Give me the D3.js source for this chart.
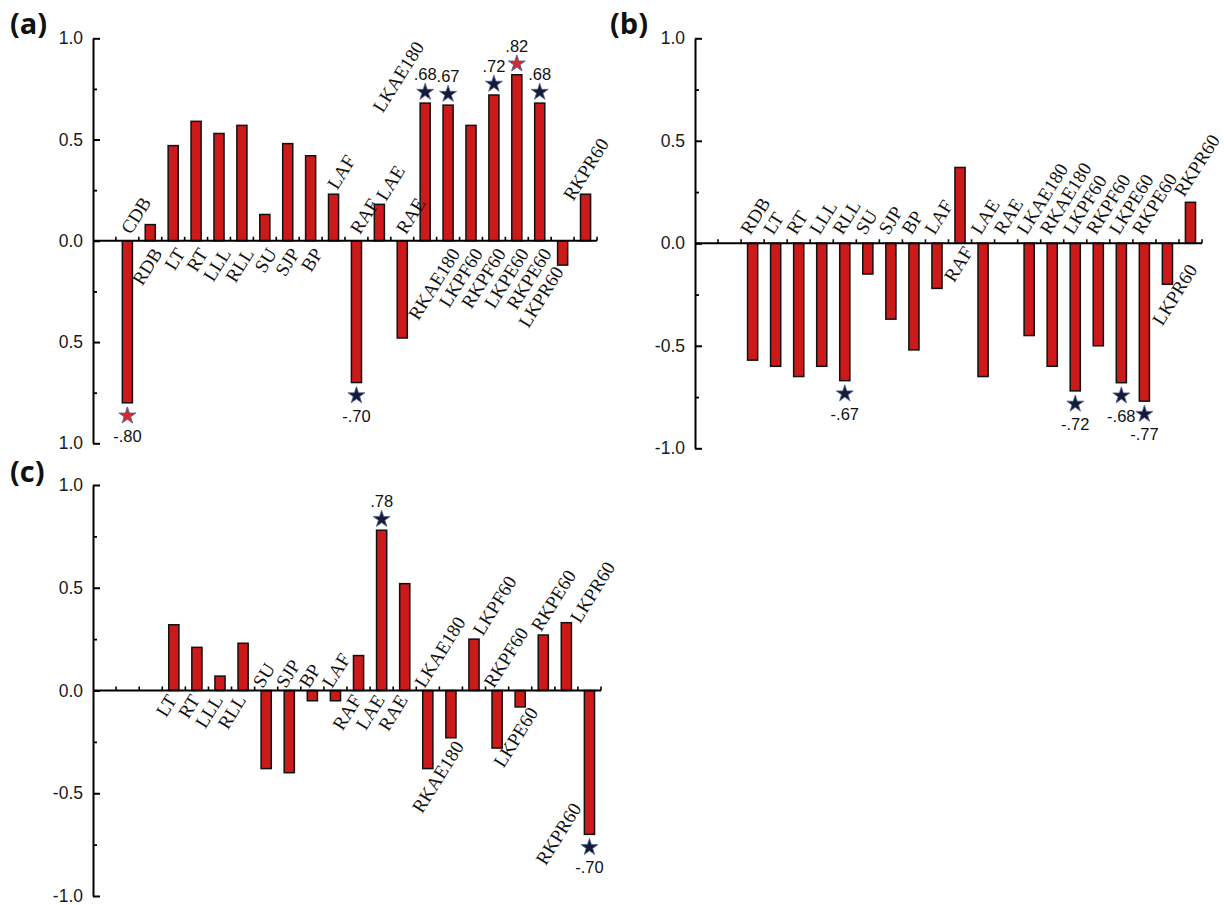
<!DOCTYPE html>
<html><head><meta charset="utf-8">
<script src="https://cdn.jsdelivr.net/npm/d3@7"></script>
<style>body{margin:0;background:#fff}</style>
</head><body><svg id="c" width="1224" height="905"></svg>
<script>
// ---------- data ----------
const categories = ["CDB","RDB","LT","RT","LLL","RLL","SU","SJP","BP","LAF","RAF","LAE","RAE",
  "LKAE180","RKAE180","LKPF60","RKPF60","LKPE60","RKPE60","LKPR60","RKPR60"];

const valuesA = [-0.80, 0.08, 0.47, 0.59, 0.53, 0.57, 0.13, 0.48, 0.42, 0.23, -0.70, 0.18, -0.48,
  0.68, 0.67, 0.57, 0.72, 0.82, 0.68, -0.12, 0.23];
const valuesB = [null, -0.57, -0.60, -0.65, -0.60, -0.67, -0.15, -0.37, -0.52, -0.22, 0.37, -0.65, null,
  -0.45, -0.60, -0.72, -0.50, -0.68, -0.77, -0.20, 0.20];
const valuesC = [null, null, 0.32, 0.21, 0.07, 0.23, -0.38, -0.40, -0.05, -0.05, 0.17, 0.78, 0.52,
  -0.38, -0.23, 0.25, -0.28, -0.08, 0.27, 0.33, -0.70];

// 0 = no mark, 1 = significant (dark star), 2 = strongest (red star)
const starsA = [2,0,0,0,0,0,0,0,0,0,1,0,0,1,1,0,1,2,1,0,0];
const starsB = [0,0,0,0,0,1,0,0,0,0,0,0,0,0,0,1,0,1,1,0,0];
const starsC = [0,0,0,0,0,0,0,0,0,0,0,1,0,0,0,0,0,0,0,0,1];

const tickValues = [1, 0.5, 0, -0.5, -1];
const tickLabelsA = ["1.0","0.5","0.0","0.5","1.0"];
const tickLabelsBC = ["1.0","0.5","0.0","-0.5","-1.0"];
const minorTicks = [0.75, 0.25, -0.25, -0.75];
const panelLetters = ["(a)","(b)","(c)"];

// ---------- label layout (a = above axis, b = below axis, arrays = [anchor, base, dx, dy]) ----------
const layoutA = ["a","b","b","b","b","b","b","b","b",["s","v",-2,-7],"a",["s","v",1,-6],"a",
  ["s",0.645,-48,0],"b","b","b","b","b",["e","v",-4,3],["s","v",-18,4]];
const layoutB = [null,"a","a","a","a","a","a","a","a","a","b","a","a",
  "a","a","a","a","a","a",["e",-0.11,25,0],["s","v",-12,-8]];
const layoutC = [null,null,"b","b","b","b","a","a","a","a","b","b","b",
  "a",["e","v",8,5],["s","v",3,-6],"a",["e","v",13,2],["s","v",-8,-6],["s","v",8,-2],["e",-0.555,-13,0]];

// ---------- drawing ----------
const svg = d3.select("#c");
svg.append("rect").attr("width",1224).attr("height",905).attr("fill","#fff");

const panels = [
  {letter: panelLetters[0], values: valuesA, stars: starsA, layout: layoutA, ticks: tickLabelsA,
   x0: 93, x1: 597, yT: 38.3, yB: 443.3, lx: 10, ly: 34, off: {a: [-2,-9], b: [7,9]}},
  {letter: panelLetters[1], values: valuesB, stars: starsB, layout: layoutB, ticks: tickLabelsBC,
   x0: 695, x1: 1202, yT: 38.3, yB: 448.3, lx: 610, ly: 34, off: {a: [-8,-11], b: [8,5]}},
  {letter: panelLetters[2], values: valuesC, stars: starsC, layout: layoutC, ticks: tickLabelsBC,
   x0: 93, x1: 601, yT: 485, yB: 896, lx: 10, ly: 482, off: {a: [-9,-5], b: [-2,6]}}
];

const fmt = v => v.toFixed(2).replace(/^(-?)0\./, "$1.");
const ANG = -58;

function draw(P){
  const g = svg.append("g");
  const x = d3.scaleBand().domain(["", ...categories]).range([P.x0, P.x1]).padding(0);
  const y = d3.scaleLinear().domain([-1, 1]).range([P.yB, P.yT]);
  const bw = x.bandwidth();
  const barW = bw * 0.44;
  const data = categories.map((c, i) => ({c, v: P.values[i], s: P.stars[i], l: P.layout[i]}));

  // bars
  g.selectAll("rect.bar").data(data.filter(d => d.v != null)).join("rect")
    .attr("class","bar")
    .attr("x", d => x(d.c) + bw/2 - barW/2).attr("width", barW)
    .attr("y", d => y(Math.max(0, d.v)))
    .attr("height", d => Math.abs(y(d.v) - y(0)))
    .attr("fill", "#cc1a1a").attr("stroke", "#111").attr("stroke-width", 1.5);

  // y axis
  const ya = d3.axisLeft(y).tickValues(tickValues).tickFormat((d, i) => P.ticks[i])
    .tickSizeInner(-7).tickSizeOuter(0).tickPadding(10);
  const yg = g.append("g").attr("transform", `translate(${P.x0},0)`).call(ya);
  yg.select(".domain").attr("stroke", "#000").attr("stroke-width", 2);
  yg.selectAll(".tick line").attr("stroke", "#000").attr("stroke-width", 2);
  yg.selectAll(".tick text").attr("font-family", "'Liberation Sans', Arial, sans-serif")
    .attr("font-size", 17.5).attr("fill", "#1a1a1a");
  const ym = d3.axisLeft(y).tickValues(minorTicks).tickFormat("").tickSizeInner(-4).tickSizeOuter(0);
  const ymg = g.append("g").attr("transform", `translate(${P.x0},0)`).call(ym);
  ymg.select(".domain").remove();
  ymg.selectAll(".tick line").attr("stroke", "#000").attr("stroke-width", 1.8);

  // x axis
  g.append("line").attr("x1", P.x0).attr("x2", P.x1).attr("y1", y(0)).attr("y2", y(0))
    .attr("stroke", "#000").attr("stroke-width", 2);
  const bounds = x.domain().slice(1).map(c => x(c)).concat([P.x1]);
  g.selectAll("line.xt").data(bounds).join("line").attr("class","xt")
    .attr("x1", d => d).attr("x2", d => d).attr("y1", y(0)).attr("y2", y(0) - 4)
    .attr("stroke", "#000").attr("stroke-width", 1.6);

  // category labels
  data.forEach(d => {
    if (d.l == null) return;
    const xc = x(d.c) + bw/2;
    let ax, ay, anchor;
    if (d.l === "a") { anchor = "start"; ax = xc + P.off.a[0]; ay = y(0) + P.off.a[1]; }
    else if (d.l === "b") { anchor = "end"; ax = xc + P.off.b[0]; ay = y(0) + P.off.b[1]; }
    else {
      const [t, base, dx, dy] = d.l;
      anchor = t === "s" ? "start" : "end";
      ax = xc + dx; ay = y(base === "v" ? d.v : base) + dy;
    }
    g.append("text").attr("transform", `translate(${ax},${ay}) rotate(${ANG})`)
      .attr("text-anchor", anchor).attr("dy", "0.35em")
      .attr("font-family", "'Liberation Serif', 'Times New Roman', serif")
      .attr("font-size", 19).attr("fill", "#111").text(d.c);
  });

  // stars and value labels
  const star = d3.symbol().type(d3.symbolStar).size(90);
  data.filter(d => d.s > 0 && d.v != null).forEach(d => {
    const xc = x(d.c) + bw/2;
    const sy = d.v > 0 ? y(d.v) - 11 : y(d.v) + 13;
    g.append("path").attr("d", star()).attr("transform", `translate(${xc},${sy})`)
      .attr("fill", d.s === 2 ? "#d42a2a" : "#131a3a")
      .attr("stroke", d.s === 2 ? "#4a5aa8" : "#55658f").attr("stroke-width", 0.8);
    const ty = d.v > 0 ? y(d.v) - 23 : y(d.v) + 39;
    g.append("text").attr("x", xc).attr("y", ty).attr("text-anchor", "middle")
      .attr("font-family", "'Liberation Sans', Arial, sans-serif").attr("font-size", 16.5)
      .attr("fill", "#111").text(fmt(d.v));
  });

  // panel letter
  svg.append("text").attr("x", P.lx).attr("y", P.ly)
    .attr("font-family", "'Open Sans', 'Noto Sans', sans-serif").attr("font-weight", "bold")
    .attr("font-size", 29).attr("fill", "#111").text(P.letter);
}

panels.forEach(draw);
</script>
</body></html>
